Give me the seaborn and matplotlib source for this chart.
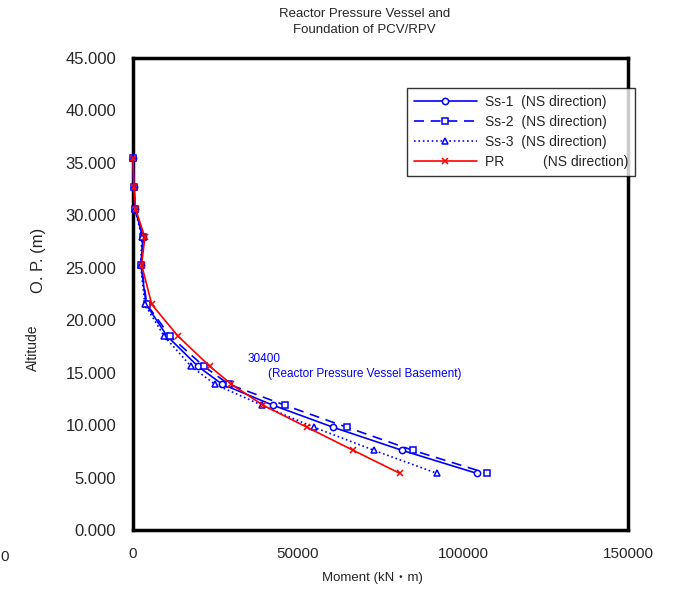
import numpy as np
import pandas as pd
import matplotlib
matplotlib.use("Agg")
import matplotlib.pyplot as plt
import seaborn as sns

# altitude of each evaluation point, O.P. (m)
altitude = [35.5, 32.7, 30.6, 27.9, 25.3, 21.5, 18.5, 15.6, 13.9, 11.9, 9.8, 7.6, 5.4]

# bending moment (kN·m), NS direction
ss1 = [0, 300, 600, 3100, 2400, 4000, 10300, 19700, 27000, 42400, 60600, 81500, 104200]
ss2 = [0, 300, 600, 3000, 2500, 4200, 11200, 21500, 29000, 46000, 64800, 84800, 107300]
ss3 = [0, 300, 600, 2700, 2300, 3600, 9400, 17600, 24800, 39000, 54800, 73000, 92100]
pr = [0, 300, 800, 3600, 2600, 5700, 13600, 23300, 29800, 39400, 52700, 66700, 80900]

labels = ["Ss-1  (NS direction)", "Ss-2  (NS direction)",
          "Ss-3  (NS direction)", "PR          (NS direction)"]
xticks = [0, 50000, 100000, 150000]
yticks = [0, 5, 10, 15, 20, 25, 30, 35, 40, 45]

sns.set_style("white")
plt.rcParams['font.family'] = ['Liberation Sans', 'Noto Sans CJK JP', 'DejaVu Sans']

fig = plt.figure(figsize=(6.83, 5.91), dpi=100)
ax = fig.add_axes([0.1947, 0.1032, 0.7248, 0.7987])

blue = '#0000FF'
red = '#FF0000'
styles = [
    (ss1, blue, '-', 'o'),
    (ss2, blue, (0, (6, 4)), 's'),
    (ss3, blue, ':', '^'),
    (pr, red, '-', 'x'),
]
for (vals, col, ls, mk), lab in zip(styles, labels):
    df = pd.DataFrame({'moment': vals, 'alt': altitude})
    sns.lineplot(data=df, x='moment', y='alt', sort=False, ax=ax, color=col,
                 linestyle=ls, marker=mk, markersize=4.5, markeredgewidth=1.1,
                 markerfacecolor='white' if mk != 'x' else col,
                 markeredgecolor=col, linewidth=1.2, label=lab,
                 clip_on=False, zorder=3)

ax.set_xlim(0, 150000)
ax.set_ylim(0, 45)
ax.set_xticks(xticks)
ax.set_xticklabels([str(v) for v in xticks], fontsize=11)
ax.set_yticks(yticks)
ax.set_yticklabels([f"{v:.3f}" for v in yticks], fontsize=12)
ax.tick_params(direction='in', length=4, width=1, pad=12)
ax.tick_params(axis='y', pad=12)
for sp in ax.spines.values():
    sp.set_linewidth(2.5)
    sp.set_color('black')
    sp.set_zorder(2)
ax.set_xlabel("")
ax.set_ylabel("")

ax.text(34800, 16.3, "30400", color=blue, fontsize=8.5, ha='left', va='center')
ax.text(40900, 14.9, "(Reactor Pressure Vessel Basement)", color=blue,
        fontsize=8.5, ha='left', va='center')

leg = ax.legend(loc='upper left', bbox_to_anchor=(0.54, 0.952), fontsize=10,
                frameon=True, fancybox=False, handlelength=4.5,
                labelspacing=0.45, borderpad=0.5, handletextpad=0.6)
leg.get_frame().set_edgecolor('black')
leg.get_frame().set_linewidth(1.0)
leg.set_zorder(5)

fig.text(0.534, 0.962, "Reactor Pressure Vessel and\nFoundation of PCV/RPV",
         ha='center', va='center', fontsize=9.5, linespacing=1.45)
fig.text(0.545, 0.022, "Moment (kN・m)", ha='center', va='center', fontsize=9.5)
fig.text(0.048, 0.412, "Altitude", rotation=90, ha='center', va='center', fontsize=10)
fig.text(0.056, 0.56, "O. P. (m)", rotation=90, ha='center', va='center', fontsize=12)
fig.text(0.007, 0.057, "0", ha='center', va='center', fontsize=11)

fig.savefig("out.png", dpi=100)
